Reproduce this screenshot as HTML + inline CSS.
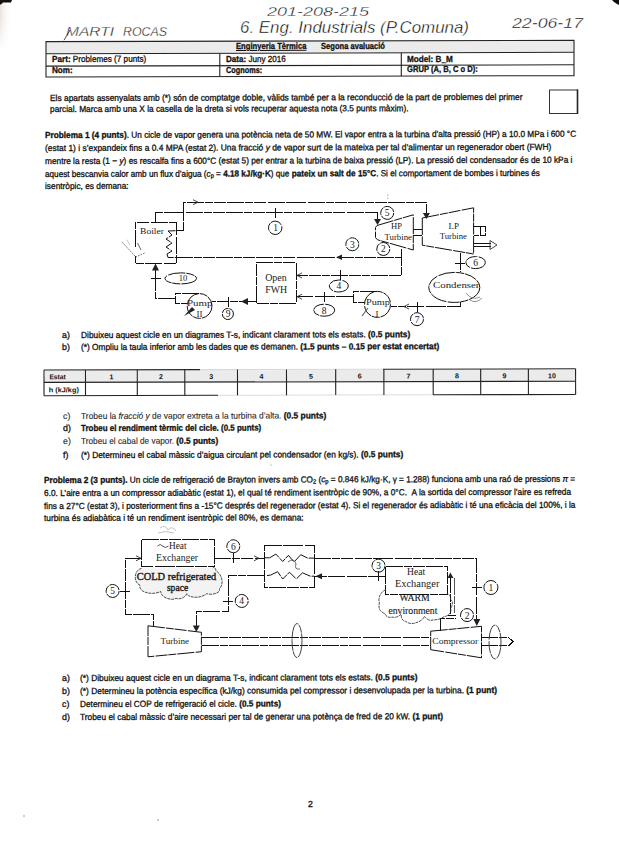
<!DOCTYPE html>
<html><head><meta charset="utf-8">
<style>
html,body{margin:0;padding:0;background:#fff;}
body{width:619px;height:848px;position:relative;overflow:hidden;font-family:"Liberation Sans",sans-serif;color:#111;}
.t{position:absolute;white-space:nowrap;line-height:1;transform-origin:0 0;-webkit-text-stroke:0.3px #111;}
.lt{color:#222;-webkit-text-stroke:0.1px #333;}
.t sub{font-size:70%;vertical-align:-0.2em;line-height:0;}
svg{position:absolute;left:0;top:0;}
</style></head><body>
<svg width="619" height="848" viewBox="0 0 619 848">
<defs><style>.d line,.d rect,.d polyline:not(.zz),.d path{shape-rendering:crispEdges}.d>*{stroke-dasharray:17,1,8,0.8,12,1.4}</style>
 <linearGradient id="lg" x1="0" y1="0" x2="1" y2="0">
  <stop offset="0" stop-color="#e9e2de"/><stop offset="1" stop-color="#fff" stop-opacity="0"/>
 </linearGradient>
 <linearGradient id="lgv" x1="0" y1="0" x2="0" y2="1">
  <stop offset="0" stop-color="#fff" stop-opacity="0"/><stop offset="1" stop-color="#fff" stop-opacity="1"/>
 </linearGradient>
 <marker id="ad" markerWidth="6" markerHeight="6" refX="3" refY="5" orient="auto" markerUnits="userSpaceOnUse"><path d="M0,0 L6,0 L3,6 z" fill="#222"/></marker>
</defs>
<!-- scan artifacts -->
<rect x="0" y="0" width="12" height="50" fill="url(#lg)"/>
<rect x="0" y="15" width="12" height="36" fill="url(#lgv)"/>
<path d="M0,0 L12,0 L11,2.5 L3,2.5 L1,4.5 L0,4.5 z" fill="#111"/>
<path d="M612,0 L619,0 L619,5 L617,4 L614,2 z" fill="#111"/>

<g fill="#777"><circle cx="387.8" cy="195" r="0.6"/><circle cx="387.8" cy="198" r="0.6"/><circle cx="24" cy="816" r="0.7"/><circle cx="158" cy="820" r="0.7"/><circle cx="271" cy="465" r="0.6"/><circle cx="245" cy="458" r="0.6"/></g>
<!-- header table -->
<polygon points="46.6,42.1 573.5,40.8 573.5,51.8 46.6,53.3" fill="#ebebeb"/>
<g stroke="#222" stroke-width="1.1" fill="none">
 <polygon points="46,41.6 574,40.3 574,75.6 46,77"/>
 <line x1="46" y1="53.8" x2="574" y2="52.3"/>
 <line x1="46" y1="66.1" x2="574" y2="64.8"/>
 <line x1="219.8" y1="53.3" x2="219.8" y2="76.6"/>
 <line x1="401.3" y1="52.8" x2="401.3" y2="76.1"/>
</g>
<!-- checkbox -->
<rect x="549.5" y="90" width="28" height="23.5" fill="none" stroke="#333" stroke-width="1"/>
<line x1="577.5" y1="89.5" x2="577.5" y2="114" stroke="#222" stroke-width="1.6"/>

<g transform="rotate(-0.13 310 382)">
<!-- state table -->
<rect x="44.6" y="370" width="530.6" height="11.5" fill="#ebebeb"/>
<g stroke="#222" stroke-width="1.1" fill="none">
 <line x1="44" y1="369.4" x2="44" y2="395.1"/>
 <line x1="575.6" y1="369.4" x2="575.6" y2="395.1"/>
 <line x1="44" y1="369.4" x2="200" y2="369.4"/>
 <line x1="200" y1="369.4" x2="383" y2="369.4" stroke="#d8d8d8"/>
 <line x1="383" y1="369.4" x2="575.6" y2="369.4"/>
 <line x1="44" y1="395.1" x2="218" y2="395.1"/>
 <line x1="218" y1="395.1" x2="433" y2="395.1" stroke="#dcdcdc"/>
 <line x1="433" y1="395.1" x2="575.6" y2="395.1"/>
 <line x1="44" y1="381.8" x2="575.6" y2="381.8"/>
 <line x1="85.5" y1="369.4" x2="85.5" y2="395.1"/>
 <line x1="137.3" y1="369.4" x2="137.3" y2="395.1"/>
 <line x1="184.8" y1="369.4" x2="184.8" y2="395.1"/>
 <line x1="237.5" y1="369.4" x2="237.5" y2="395.1"/>
 <line x1="286.5" y1="369.4" x2="286.5" y2="395.1"/>
 <line x1="335.7" y1="369.4" x2="335.7" y2="395.1"/>
 <line x1="383.9" y1="369.4" x2="383.9" y2="395.1"/>
 <line x1="433.2" y1="369.4" x2="433.2" y2="395.1"/>
 <line x1="480.7" y1="369.4" x2="480.7" y2="395.1"/>
 <line x1="528.4" y1="369.4" x2="528.4" y2="395.1"/>
</g>
<g font-family="Liberation Sans" font-size="7" font-weight="bold" fill="#111" text-anchor="middle">
 <text x="57.6" y="378.7" textLength="16.4" lengthAdjust="spacingAndGlyphs">Estat</text>
 <text x="111.4" y="378.7">1</text>
 <text x="161" y="378.7">2</text>
 <text x="211.2" y="378.7">3</text>
 <text x="261.5" y="378.7">4</text>
 <text x="311" y="378.7">5</text>
 <text x="359.8" y="378.7">6</text>
 <text x="408.5" y="378.7">7</text>
 <text x="457" y="378.7">8</text>
 <text x="504.5" y="378.7">9</text>
 <text x="552" y="378.7">10</text>
 <text x="63.8" y="391.6" textLength="30" lengthAdjust="spacingAndGlyphs">h (kJ/kg)</text>
</g>

</g>
<!-- ===== Diagram 1 ===== -->
<g class="d" stroke="#111" stroke-width="1" fill="none">
 <!-- boiler -->
 <path d="M135.8,247.4 L135.8,222 L176,222 L176,263.2 L135.8,263.2 L135.8,256"/>
 <polyline class="zz" points="175.5,230.7 168,231 172,235 166,239 172,243 166,247 172,251 167,254 168,257.5 176,257.5"/>
 <!-- line A: boiler -> LP -->
 <polyline points="175.5,230.7 183.3,230.7 183.3,202.2 426.4,202.2 426.4,214"/>
 <!-- line B: state 1 -> HP -->
 <polyline points="155,222 155,212.5 377.5,212.5 377.5,220"/>
 <line x1="275.2" y1="208" x2="275.2" y2="218"/>
 <!-- line 3: HP out -> boiler -->
 <line x1="176" y1="257.3" x2="401.7" y2="257.3"/>
 <polyline points="401.7,249 401.7,275.4 296,275.4"/>
 <!-- HP turbine -->
 <polygon points="377,225.5 413.3,214.8 413.3,250 377.5,239.8 375.5,237.5 375.5,227.5"/>
 <line x1="413.3" y1="229" x2="422.3" y2="229"/>
 <line x1="413.3" y1="235.5" x2="422.3" y2="235.5"/>
 <!-- LP turbine -->
 <polygon points="422.3,218 473.6,207.8 473.6,254 422.3,245.2"/>
 <polyline points="473.6,226.8 485.5,226.8 485.5,235.6 473.6,235.6"/><line x1="480" y1="226.8" x2="480" y2="235.6"/>
 <line x1="473.6" y1="243.5" x2="491" y2="243.5"/><line x1="473.6" y1="246.5" x2="491" y2="246.5"/>
 <!-- LP out -> condenser -->
 <line x1="460" y1="252.5" x2="460" y2="272.4"/>
 <line x1="455" y1="263" x2="465" y2="263"/>
 <ellipse cx="475.6" cy="262.6" rx="9.7" ry="6"/>
 <ellipse cx="454.3" cy="287.4" rx="25.5" ry="15"/>
 <!-- line 7 -->
 <polyline points="460,302.3 460,306.6 390.5,306.6"/>
 <line x1="417.4" y1="301.5" x2="417.4" y2="311.5"/>
 <circle cx="417" cy="319.2" r="6.5"/>
 <!-- pump I -->
 <polyline points="377,291 353.3,291 353.3,302.5 365,302.5"/>
 <circle cx="377.5" cy="304.4" r="13"/>
 <!-- line 8 -->
 <line x1="353.3" y1="296.7" x2="296" y2="296.7"/>
 <line x1="324.8" y1="291.7" x2="324.8" y2="301.7"/>
 <ellipse cx="324.2" cy="310.2" rx="10.5" ry="6"/>
 <!-- line 4 tick + label -->
 <line x1="340.7" y1="270.4" x2="340.7" y2="280.4"/>
 <ellipse cx="338.8" cy="286" rx="9.5" ry="6"/>
 <!-- labels -->
 <circle cx="275.2" cy="227.8" r="6.7"/>
 <circle cx="352.3" cy="244.3" r="6.5"/>
 <circle cx="383.3" cy="249" r="6.5"/>
 <circle cx="387.2" cy="212.9" r="6.5"/>
 <!-- FWH -->
 <rect x="256.2" y="262.4" width="39.8" height="40.6"/>
 <!-- line 9 -->
 <line x1="256.2" y1="301.5" x2="211.6" y2="301.5"/>
 <line x1="228" y1="296.5" x2="228" y2="306.5"/>
 <circle cx="227.9" cy="314" r="5.5"/>
 <!-- pump II -->
 <polyline points="199,293.4 175,293.4 175,303.4 187,303.4"/>
 <circle cx="199.6" cy="306" r="12.4"/>
 <!-- line 10 -->
 <polyline points="175,298.6 155.5,298.6 155.5,268"/>
 <line x1="150.5" y1="278" x2="160.5" y2="278"/>
 <ellipse cx="180.8" cy="278.4" rx="15.8" ry="5.5"/>
</g>
<!-- arrowheads diagram 1 -->
<g fill="#222" stroke="none">
 <path d="M422.9,213 L429.9,213 L426.4,219 z"/>
 <path d="M374,219 L381,219 L377.5,225 z"/>
 <path d="M155.5,263.5 L152,270.5 L159,270.5 z"/>
 <path d="M241,301.5 L248,298 L248,305 z"/>
 <path d="M336,257.3 L342,254.5 L342,260 z"/>
</g>
<g stroke="#333" stroke-width="0.9" fill="none">
 <path d="M193,199.7 L198,202.2 L193,204.7"/>
 <path d="M302,272.9 L297,275.4 L302,277.9"/>
 <path d="M302,294.2 L297,296.7 L302,299.2"/>
 <path d="M409,304 L404,306.6 L409,309"/>
 <path d="M490,240.5 L497,245 L490,249.5 z"/>
 <path d="M466,293 q6,8 14,4 M470,300 q6,4 12,-2" stroke="#888"/>
 <path d="M122.3,242.3 L135.8,257 L145.5,252.6" stroke="#555" stroke-dasharray="1.6,1.2"/><path d="M126.8,239.7 L130,245" stroke="#bbb"/><path d="M137.5,243 L141,250" stroke="#555"/>
</g>
<path d="M184,316 L192,307 L195,310 z" fill="#222"/>
<path d="M362,316 L368,308" stroke="#666" stroke-width="1.2"/>
<g font-family="Liberation Serif" font-size="9" fill="#1a1a1a" text-anchor="start">
 <text x="140" y="233.6" textLength="24" lengthAdjust="spacingAndGlyphs">Boiler</text>
 <text x="391" y="229.2" textLength="11" lengthAdjust="spacingAndGlyphs">HP</text>
 <text x="384.5" y="240" textLength="27.5" lengthAdjust="spacingAndGlyphs">Turbine</text>
 <text x="448.6" y="229" textLength="10.4" lengthAdjust="spacingAndGlyphs">LP</text>
 <text x="439.7" y="239.2" textLength="27.3" lengthAdjust="spacingAndGlyphs">Turbine</text>
 <text x="433" y="288.3" textLength="46.5" lengthAdjust="spacingAndGlyphs">Condenser</text>
 <text x="265.2" y="281.2" font-size="10" textLength="21.5" lengthAdjust="spacingAndGlyphs">Open</text>
 <text x="265.2" y="292.5" font-size="10" textLength="21.9" lengthAdjust="spacingAndGlyphs">FWH</text>
 <text x="366" y="305" textLength="24" lengthAdjust="spacingAndGlyphs">Pump</text>
 <text x="375.5" y="316.5">I</text>
 <text x="187" y="306" textLength="25.5" lengthAdjust="spacingAndGlyphs">Pump</text>
 <text x="196.5" y="317.4">II</text>
</g>
<g font-family="Liberation Serif" font-size="9.5" fill="#1a1a1a" text-anchor="middle">
 <text x="275.5" y="231.2">1</text>
 <text x="383.3" y="252.4">2</text>
 <text x="352.3" y="247.7">3</text>
 <text x="338.8" y="289.4">4</text>
 <text x="387.2" y="216.3">5</text>
 <text x="475.6" y="266">6</text>
 <text x="417" y="322.6">7</text>
 <text x="324.2" y="313.6">8</text>
 <text x="228" y="317.3">9</text>
 <text x="183" y="281.4" font-size="8.5" textLength="8.5" lengthAdjust="spacingAndGlyphs">10</text>
</g>

<!-- ===== Diagram 2 ===== -->
<g class="d" stroke="#111" stroke-width="1" fill="none">
 <rect x="141.7" y="539.5" width="72.6" height="27.2"/>
 <!-- line 5 -->
 <polyline points="141.7,558.3 125.2,558.3 125.2,614.2 153.3,614.2 153.3,626"/>
 <line x1="120.2" y1="591" x2="130.2" y2="591"/>
 <circle cx="112.6" cy="591" r="6.5"/>
 <!-- line 6 -->
 <line x1="214.3" y1="558.3" x2="264" y2="558.3"/>
 <line x1="233.3" y1="553.3" x2="233.3" y2="563.3"/>
 <circle cx="233.3" cy="546.3" r="6.5"/>
 <!-- regen -->
 <rect x="264.6" y="545.1" width="49.8" height="42.4"/>
 <polyline class="zz" points="264.6,557.8 269.7,557.8 275.9,554.1 282.7,561.5 288.4,555.3 294,562 300.8,554.7 307.6,558.1 314.4,558.1"/>
 <polyline class="zz" points="267,575.6 270.8,575 277.6,571.7 282.7,579 289.5,572.2 296.3,579 302.5,572.8 310.4,576.2 314.4,576.2"/>
 <!-- line 4 -->
 <polyline points="264,575.2 228,575.2 228,611.7 196.3,611.7 196.3,626"/>
 <line x1="223" y1="601" x2="233" y2="601"/>
 <circle cx="241.7" cy="601" r="6.5"/>
 <!-- line 1 -->
 <polyline points="314.3,558 476.8,558 476.8,620"/>
 <line x1="471.8" y1="587.5" x2="481.8" y2="587.5"/>
 <circle cx="490.9" cy="587.5" r="7"/>
 <!-- line 3 -->
 <line x1="385.3" y1="576.4" x2="314.3" y2="576.4"/>
 <line x1="378.5" y1="571.4" x2="378.5" y2="581.4"/>
 <circle cx="378.5" cy="565.7" r="6.5"/>
 <!-- warm HX -->
 <rect x="385.8" y="566.2" width="61.4" height="27.8"/>
 <!-- line 2 -->
 <polyline points="440.7,631 440.7,618.7 456.4,618.7"/><line x1="448.4" y1="615.5" x2="456.4" y2="615.5"/><line x1="450.4" y1="576" x2="450.4" y2="614"/><line x1="454.3" y1="578" x2="454.3" y2="613" stroke-dasharray="2,1.2" stroke="#555"/>
 <circle cx="467" cy="615.1" r="6.5"/>
 <!-- compressor -->
 <polygon points="430.7,631.2 481.5,626.3 481.5,657.8 430.7,649.7"/>
 <!-- turbine -->
 <polygon points="148,625.8 201.4,632.3 201.4,651.7 148,656.8"/>
 <!-- shafts -->
 <line x1="201.7" y1="637.7" x2="431" y2="637.7"/>
 <line x1="201.7" y1="645.4" x2="431" y2="645.4"/>
 <line x1="481.4" y1="637.8" x2="509" y2="637.8"/>
 <line x1="481.4" y1="645.5" x2="509" y2="645.5"/>
 <path d="M509,637.8 L513,641.6 L509,645.5"/>
 <ellipse cx="297" cy="640.5" rx="5" ry="17" stroke="#444"/>
 <ellipse cx="495" cy="642" rx="6" ry="17" stroke="#444"/>
</g>
<!-- clouds -->
<g stroke="#3a3a3a" stroke-width="0.9" fill="#f3f3f3" stroke-dasharray="3,0.8">
 <path d="M141.5,568.4 C134,570 133,582 140,585.3 C138,592 152,596 160.7,591.4 C161,598 172,601 176,598.3 C180,600 186,597 186.7,593.7 C189,598 200,599 206.7,593.7 C214,596 222,591 219,589.1 C224,585 223,575 215.9,570.7 C216,568 214,567 212.8,567.7"/>
 <path fill="none" d="M386,589.5 C380,592 378,598 379.4,603 C378,608 380,612 385,613.6 C386,617 389,618 392,617 C395,618 398,617 401.2,614.1 C401,619 403,621 405.5,621.3 C409,624 413,624 415.7,622.8 C419,622 423,620 424.4,616.3 C427,620 431,621 433.1,619.9 C437,620 441,619 443.3,617 C449,616 452,612 450.6,608.3 C453,605 453,601 450.6,599.5 C451,596 449,594 447.2,594"/>
</g>
<!-- arrowheads diagram 2 -->
<g fill="#222" stroke="none">
 <path d="M473.3,619 L480.3,619 L476.8,626 z"/>
 <path d="M192.8,625.5 L199.8,625.5 L196.3,632 z"/>
 <path d="M315.5,576.3 L322,573.3 L322,579.3 z"/>
 <path d="M447.4,578 L450.4,572.5 L453.4,578 z"/>
</g>
<g stroke="#333" stroke-width="0.9" fill="none">
 <path d="M136,555.8 L141,558.3 L136,560.8"/>
 <path d="M254,555.8 L259,558.3 L254,560.8"/>
 <path d="M160,528 q5,-4 8,2 q4,-5 8,1 M158,533 q8,-3 16,0" stroke="#bbb"/><path d="M157.5,546 q3,-3 5,0 q3,3 6,0" stroke="#444"/>
 <path d="M288,562 q6,-5 8,2 q-2,6 4,5" stroke="#556"/>
</g>
<g font-family="Liberation Serif" font-size="9" fill="#1a1a1a" text-anchor="start">
 <text x="169" y="548.6" font-size="9.8" textLength="17.5" lengthAdjust="spacingAndGlyphs">Heat</text>
 <text x="156.1" y="560.8" font-size="9.8" textLength="42" lengthAdjust="spacingAndGlyphs">Exchanger</text>
 <text stroke="#1a1a1a" stroke-width="0.35" x="136.8" y="580.2" font-size="9.6" textLength="79.5" lengthAdjust="spacingAndGlyphs">COLD refrigerated</text>
 <text stroke="#1a1a1a" stroke-width="0.35" x="166.9" y="590.9" font-size="9.6" textLength="21.3" lengthAdjust="spacingAndGlyphs">space</text>
 <text x="407.1" y="574.9" font-size="9.8" textLength="18.1" lengthAdjust="spacingAndGlyphs">Heat</text>
 <text x="394.9" y="587.1" font-size="9.6" textLength="44.5" lengthAdjust="spacingAndGlyphs">Exchanger</text>
 <text stroke="#1a1a1a" stroke-width="0.12" x="399.4" y="601.3" font-size="9.6" textLength="30.3" lengthAdjust="spacingAndGlyphs">WARM</text>
 <text stroke="#1a1a1a" stroke-width="0.12" x="388.4" y="613.6" font-size="9.6" textLength="49" lengthAdjust="spacingAndGlyphs">environment</text>
 <text x="160.4" y="643.9" font-size="9.2" textLength="28.7" lengthAdjust="spacingAndGlyphs">Turbine</text>
 <text x="432.3" y="644.1" font-size="9.2" textLength="46" lengthAdjust="spacingAndGlyphs">Compressor</text>
</g>
<g font-family="Liberation Serif" font-size="9.5" fill="#1a1a1a" text-anchor="middle">
 <text x="490.9" y="590.9">1</text>
 <text x="467" y="618.5">2</text>
 <text x="378.5" y="569.1">3</text>
 <text x="241.7" y="604.4">4</text>
 <text x="112.6" y="594.4">5</text>
 <text x="233.3" y="549.7">6</text>
</g>

<!-- handwriting -->
<g font-family="Liberation Sans" font-style="italic" fill="#000" stroke="#fff" stroke-width="0.35">
 <text x="66" y="35.5" font-size="12.5" textLength="48" lengthAdjust="spacingAndGlyphs">MARTI</text>
 <text x="123" y="35.5" font-size="12.5" textLength="44" lengthAdjust="spacingAndGlyphs">ROCAS</text>
 <text x="267" y="16" font-size="12.5" stroke-width="0.35" textLength="102" lengthAdjust="spacingAndGlyphs">201-208-215</text>
 <text x="240" y="33" font-size="16.5" stroke-width="0.4" textLength="229" lengthAdjust="spacingAndGlyphs">6. Eng. Industrials (P.Comuna)</text>
 <text x="512" y="28" font-size="15.5" stroke-width="0.4" textLength="71" lengthAdjust="spacingAndGlyphs">22-06-17</text>
</g>
<path d="M64,40.2 L70,30" stroke="#222" stroke-width="0.8"/>
</svg>

<div class="t" id="t0" style="left:236.0px;top:42.15px;font-size:8.8px;transform:rotate(-0.13deg) scaleX(0.8683);"><b><u>Enginyeria Tèrmica</u></b></div>
<div class="t" id="t1" style="left:321.0px;top:42.15px;font-size:8.8px;transform:rotate(-0.13deg) scaleX(0.8608);"><b>Segona avaluació</b></div>
<div class="t" id="t2" style="left:52.3px;top:54.55px;font-size:8.8px;transform:rotate(-0.13deg) scaleX(0.9270);"><b>Part:</b> Problemes (7 punts)</div>
<div class="t" id="t3" style="left:225.5px;top:54.95px;font-size:8.8px;transform:rotate(-0.13deg) scaleX(0.9191);"><b>Data:</b> Juny 2016</div>
<div class="t" id="t4" style="left:406.6px;top:54.65px;font-size:8.8px;transform:rotate(-0.13deg) scaleX(0.9275);"><b>Model: B_M</b></div>
<div class="t" id="t5" style="left:52.3px;top:65.85px;font-size:8.8px;transform:rotate(-0.13deg) scaleX(0.9198);"><b>Nom:</b></div>
<div class="t" id="t6" style="left:225.5px;top:65.85px;font-size:8.8px;transform:rotate(-0.13deg) scaleX(0.8341);"><b>Cognoms:</b></div>
<div class="t" id="t7" style="left:406.6px;top:65.45px;font-size:8.8px;transform:rotate(-0.13deg) scaleX(0.8637);"><b>GRUP (A, B, C o D):</b></div>
<div class="t" id="t8" style="left:49.5px;top:93.55px;font-size:8.8px;transform:rotate(-0.13deg) scaleX(0.9538);">Els apartats assenyalats amb (*) són de comptatge doble, vàlids també per a la reconducció de la part de problemes del primer</div>
<div class="t" id="t9" style="left:49.5px;top:104.75px;font-size:8.8px;transform:rotate(-0.13deg) scaleX(0.9460);">parcial. Marca amb una X la casella de la dreta si vols recuperar aquesta nota (3.5 punts màxim).</div>
<div class="t" id="t10" style="left:44.6px;top:130.75px;font-size:8.8px;transform:rotate(-0.13deg) scaleX(0.9386);"><b>Problema 1 (4 punts)</b>. Un cicle de vapor genera una potència neta de 50 MW. El vapor entra a la turbina d’alta pressió (HP) a 10.0 MPa i 600 °C</div>
<div class="t" id="t11" style="left:44.6px;top:143.65px;font-size:8.8px;transform:rotate(-0.13deg) scaleX(0.9566);">(estat 1) i s’expandeix fins a 0.4 MPA (estat 2). Una fracció <i>y</i> de vapor surt de la mateixa per tal d’alimentar un regenerador obert (FWH)</div>
<div class="t" id="t12" style="left:44.6px;top:156.75px;font-size:8.8px;transform:rotate(-0.13deg) scaleX(0.9422);">mentre la resta (1 − <i>y</i>) es rescalfa fins a 600°C (estat 5) per entrar a la turbina de baixa pressió (LP). La pressió del condensador és de 10 kPa i</div>
<div class="t" id="t13" style="left:44.6px;top:169.75px;font-size:8.8px;transform:rotate(-0.13deg) scaleX(0.9279);">aquest bescanvia calor amb un flux d’aigua (<i>c</i><sub>p</sub> = <b>4.18 kJ/kg·K</b>) que <b>pateix un salt de 15°C</b>. Si el comportament de bombes i turbines és</div>
<div class="t" id="t14" style="left:44.6px;top:182.25px;font-size:8.8px;transform:rotate(-0.13deg) scaleX(0.9443);">isentròpic, es demana:</div>
<div class="t" id="t15" style="left:62.3px;top:330.85px;font-size:8.8px;transform:rotate(-0.13deg) scaleX(1.0000);">a)</div>
<div class="t" id="t16" style="left:80.8px;top:330.85px;font-size:8.8px;transform:rotate(-0.13deg) scaleX(0.9473);">Dibuixeu aquest cicle en un diagrames T-s, indicant clarament tots els estats. <b>(0.5 punts)</b></div>
<div class="t" id="t17" style="left:62.3px;top:342.85px;font-size:8.8px;transform:rotate(-0.13deg) scaleX(1.0000);">b)</div>
<div class="t" id="t18" style="left:80.8px;top:342.85px;font-size:8.8px;transform:rotate(-0.13deg) scaleX(0.9440);">(*) Ompliu la taula inferior amb les dades que es demanen. <b>(1.5 punts – 0.15 per estat encertat)</b></div>
<div class="t" id="t19" style="left:62.8px;top:412.05px;font-size:8.8px;transform:rotate(-0.13deg) scaleX(1.0000);"><span class="lt">c)</span></div>
<div class="t" id="t20" style="left:80.8px;top:412.05px;font-size:8.8px;transform:rotate(-0.13deg) scaleX(0.9544);"><span class="lt">Trobeu la <i>fracció y</i> de vapor extreta a la turbina d’alta.</span> <b>(0.5 punts)</b></div>
<div class="t" id="t21" style="left:62.8px;top:424.45px;font-size:8.8px;transform:rotate(-0.13deg) scaleX(1.0000);">d)</div>
<div class="t" id="t22" style="left:80.8px;top:424.45px;font-size:8.8px;transform:rotate(-0.13deg) scaleX(0.9034);"><b>Trobeu el rendiment tèrmic del cicle. (0.5 punts)</b></div>
<div class="t" id="t23" style="left:62.8px;top:437.15px;font-size:8.8px;transform:rotate(-0.13deg) scaleX(1.0000);"><span class="lt">e)</span></div>
<div class="t" id="t24" style="left:80.8px;top:437.15px;font-size:8.8px;transform:rotate(-0.13deg) scaleX(0.9403);"><span class="lt">Trobeu el cabal de vapor.</span> <b>(0.5 punts)</b></div>
<div class="t" id="t25" style="left:62.8px;top:450.55px;font-size:8.8px;transform:rotate(-0.13deg) scaleX(1.0000);">f)</div>
<div class="t" id="t26" style="left:80.8px;top:450.55px;font-size:8.8px;transform:rotate(-0.13deg) scaleX(0.9495);">(*) Determineu el cabal màssic d’aigua circulant pel condensador (en kg/s). <b>(0.5 punts)</b></div>
<div class="t" id="t27" style="left:44.4px;top:476.45px;font-size:8.8px;transform:rotate(-0.13deg) scaleX(0.9340);"><b>Problema 2 (3 punts).</b> Un cicle de refrigeració de Brayton invers amb CO<sub>2</sub> (<i>c</i><sub>p</sub> = 0.846 kJ/kg·K, γ = 1.288) funciona amb una raó de pressions <i>π</i> =</div>
<div class="t" id="t28" style="left:44.4px;top:488.75px;font-size:8.8px;transform:rotate(-0.13deg) scaleX(0.9429);">6.0. L’aire entra a un compressor adiabàtic (estat 1), el qual té rendiment isentròpic de 90%, a 0°C. &nbsp;A la sortida del compressor l’aire es refreda</div>
<div class="t" id="t29" style="left:44.4px;top:501.75px;font-size:8.8px;transform:rotate(-0.13deg) scaleX(0.9438);">fins a 27°C (estat 3), i posteriorment fins a -15°C després del regenerador (estat 4). Si el regenerador és adiabàtic i té una eficàcia del 100%, i la</div>
<div class="t" id="t30" style="left:44.4px;top:514.05px;font-size:8.8px;transform:rotate(-0.13deg) scaleX(0.9462);">turbina és adiabàtica i té un rendiment isentròpic del 80%, es demana:</div>
<div class="t" id="t31" style="left:61.5px;top:673.75px;font-size:8.8px;transform:rotate(-0.13deg) scaleX(1.0000);">a)</div>
<div class="t" id="t32" style="left:80.0px;top:673.75px;font-size:8.8px;transform:rotate(-0.13deg) scaleX(0.9512);">(*) Dibuixeu aquest cicle en un diagrama T-s, indicant clarament tots els estats. <b>(0.5 punts)</b></div>
<div class="t" id="t33" style="left:61.5px;top:687.15px;font-size:8.8px;transform:rotate(-0.13deg) scaleX(1.0000);">b)</div>
<div class="t" id="t34" style="left:80.0px;top:687.15px;font-size:8.8px;transform:rotate(-0.13deg) scaleX(0.9518);">(*) Determineu la potència específica (kJ/kg) consumida pel compressor i desenvolupada per la turbina. <b>(1 punt)</b></div>
<div class="t" id="t35" style="left:61.5px;top:699.85px;font-size:8.8px;transform:rotate(-0.13deg) scaleX(1.0000);">c)</div>
<div class="t" id="t36" style="left:80.0px;top:699.85px;font-size:8.8px;transform:rotate(-0.13deg) scaleX(0.9414);">Determineu el COP de refrigeració el cicle. <b>(0.5 punts)</b></div>
<div class="t" id="t37" style="left:61.5px;top:712.55px;font-size:8.8px;transform:rotate(-0.13deg) scaleX(1.0000);">d)</div>
<div class="t" id="t38" style="left:80.0px;top:712.55px;font-size:8.8px;transform:rotate(-0.13deg) scaleX(0.9477);">Trobeu el cabal màssic d’aire necessari per tal de generar una potènça de fred de 20 kW. <b>(1 punt)</b></div>
<div class="t" id="t39" style="left:307.5px;top:799.55px;font-size:8.8px;transform:rotate(-0.13deg) scaleX(1.0000);">2</div>
</body></html>
